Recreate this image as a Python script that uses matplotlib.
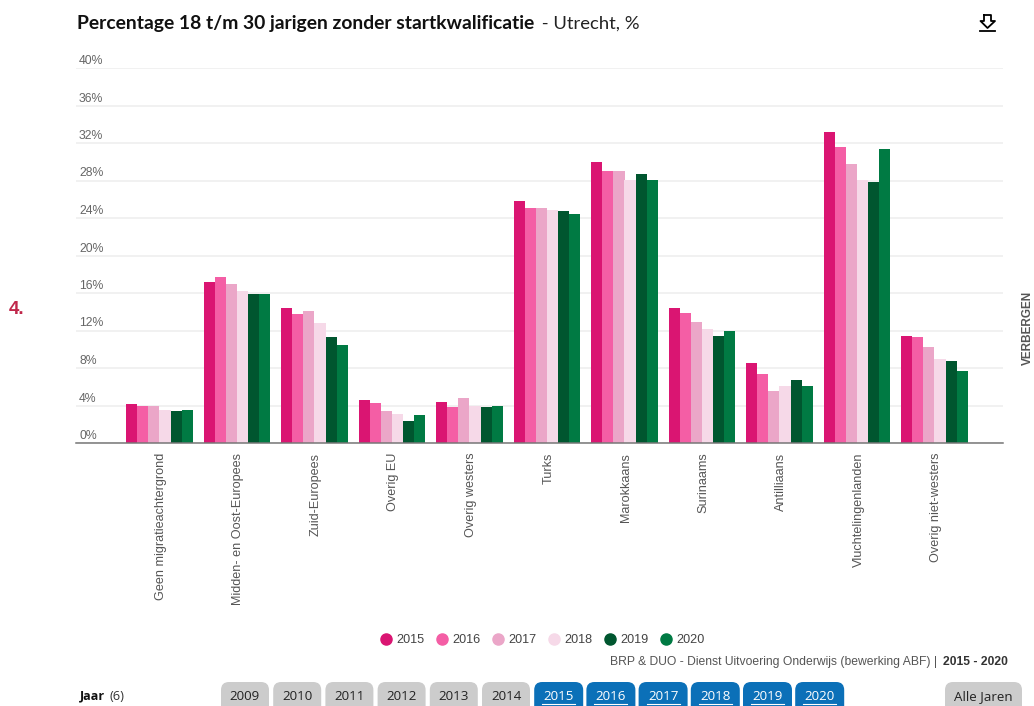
import matplotlib
matplotlib.use("Agg")
import matplotlib.pyplot as plt
import numpy as np
from matplotlib.lines import Line2D
from matplotlib.patches import FancyBboxPatch
from matplotlib.transforms import Affine2D, ScaledTranslation

W, H = 1034, 706
categories = ["Geen migratieachtergrond", "Midden- en Oost-Europees", "Zuid-Europees", "Overig EU",
              "Overig westers", "Turks", "Marokkaans", "Surinaams", "Antilliaans",
              "Vluchtelingenlanden", "Overig niet-westers"]
years = ["2015", "2016", "2017", "2018", "2019", "2020"]
v2015 = [4.2, 17.2, 14.4, 4.6, 4.4, 25.8, 30.0, 14.4, 8.5, 33.2, 11.4]
v2016 = [4.0, 17.7, 13.8, 4.3, 3.8, 25.1, 29.0, 13.9, 7.4, 31.6, 11.3]
v2017 = [3.9, 17.0, 14.1, 3.4, 4.8, 25.1, 29.0, 12.9, 5.5, 29.8, 10.2]
v2018 = [3.5, 16.2, 12.8, 3.1, 3.95, 24.9, 28.1, 12.2, 6.1, 28.1, 9.0]
v2019 = [3.4, 15.9, 11.3, 2.4, 3.8, 24.8, 28.7, 11.4, 6.7, 27.8, 8.8]
v2020 = [3.5, 15.9, 10.5, 3.0, 4.0, 24.4, 28.05, 11.9, 6.1, 31.4, 7.7]
series = [v2015, v2016, v2017, v2018, v2019, v2020]
colors = ["#DA1572", "#F45EA5", "#EBA6C8", "#F6D9E8", "#00562F", "#007A43"]
yticks = list(range(0, 41, 4))
buttons_off = ["2009", "2010", "2011", "2012", "2013", "2014"]
buttons_on = ["2015", "2016", "2017", "2018", "2019", "2020"]

SANS = "Liberation Sans"
UI = "Open Sans"
fig = plt.figure(figsize=(W / 100, H / 100), dpi=100, facecolor="white")
ax = fig.add_axes([76 / W, 1 - 443 / H, (1003 - 76) / W, 375 / H])
ax.set_ylim(0, 40)
ax.set_xlim((76 - 159.5) / 77.5, (1003 - 159.5) / 77.5)
ax.set_axisbelow(True)
bw = 11.1 / 77.5
x = np.arange(len(categories))
for i, (vals, c, yr) in enumerate(zip(series, colors, years)):
    ax.bar(x + (i - 2.5) * bw, vals, bw, color=c, label=yr, linewidth=0)
for s in ("top", "right", "left"):
    ax.spines[s].set_visible(False)
ax.spines["bottom"].set_color("#777777")
ax.spines["bottom"].set_linewidth(1.1)
ax.yaxis.grid(True, color="#EFEFEF", linewidth=1.2)
ax.set_yticks(yticks)
ax.set_yticklabels([])
ax.tick_params(axis="y", length=0)
for t in yticks:
    ax.annotate(f"{t}%", (0, t), xycoords=("axes fraction", "data"), xytext=(3, 1), textcoords="offset pixels",
                ha="left", va="bottom", fontsize=8.8, color="#666666", family=SANS)
ax.set_xticks(x)
ax.set_xticklabels(categories, rotation=90, fontsize=9.1, color="#555555", family=SANS, ha="center", va="top")
ax.tick_params(axis="x", length=0, pad=7)
shift = ScaledTranslation(1.5 / 100, 0, fig.dpi_scale_trans)
for lab in ax.get_xticklabels():
    lab.set_transform(lab.get_transform() + shift)


def T(px, py, s, **kw):
    kw.setdefault("va", "center")
    return fig.text(px / W, 1 - py / H, s, **kw)


T(77, 24, "Percentage 18 t/m 30 jarigen zonder startkwalificatie", fontsize=13.9, fontweight="bold",
  family="Lato", color="#111111")
T(537, 24, " - Utrecht, %", fontsize=13.3, family="Lato", color="#222222")
T(17, 310, "4.", fontsize=13.5, fontweight="bold", family=SANS, color="#C0274A", ha="center")
T(1033.5, 328, "VERBERGEN", fontsize=8.5, fontweight="bold", family=SANS, color="#555555", rotation=90, ha="right")
T(1008, 662, "2015 - 2020", fontsize=8.75, family=SANS, fontweight="bold", color="#333333", ha="right")
T(940, 662, "BRP & DUO - Dienst Uitvoering Onderwijs (bewerking ABF) | ", fontsize=8.75, family=SANS,
  color="#555555", ha="right")

# legend
handles = [Line2D([], [], ls="", marker="o", ms=8, color=c, label=y) for c, y in zip(colors, years)]
ax.legend(handles=handles, ncols=6, loc="center", frameon=False, prop={"family": SANS, "size": 9.1},
          labelcolor="#444444", handletextpad=0.1, columnspacing=0.7, handlelength=1.4,
          bbox_to_anchor=((541 - 76) / (1003 - 76), (443 - 640) / 375), bbox_transform=ax.transAxes)

px_tr = Affine2D().scale(1 / W, -1 / H).translate(0, 1) + fig.transFigure

# download icon
ix = [984, 991, 991, 995, 987.5, 980.5, 984, 984]
iy = [15, 15, 21, 21, 28, 21, 21, 15]
fig.add_artist(Line2D(ix, iy, color="black", lw=1.3, transform=px_tr))
fig.add_artist(Line2D([980, 995], [31, 31], color="black", lw=1.3, transform=px_tr))


# buttons
def button(left, right, label, bg, fg, underline=False):
    p = FancyBboxPatch((left + 4, 686), right - left - 8, 40, boxstyle="round,pad=4,rounding_size=8",
                       fc=bg, ec=bg, lw=0, transform=px_tr)
    fig.add_artist(p)
    T((left + right) / 2, 697, label, fontsize=9.6, family=UI, color=fg, ha="center")
    if underline:
        fig.add_artist(Line2D([left + 8, right - 8], [703.5, 703.5], color=fg, lw=0.8, transform=px_tr))


lefts = [221 + 52.2 * i for i in range(12)]
for lf, lb in zip(lefts[:6], buttons_off):
    button(lf, lf + 48, lb, "#CCCCCC", "#222222")
for lf, lb in zip(lefts[6:], buttons_on):
    button(lf, lf + 49, lb, "#0B70B8", "white", True)
button(945, 1022, "Alle Jaren", "#CCCCCC", "#222222")
T(80, 696, "Jaar", fontsize=9, fontweight="bold", family=UI, color="#111111")
T(109, 696, "(6)", fontsize=9.2, family=UI, color="#333333")

fig.savefig("out.png", dpi=100)
